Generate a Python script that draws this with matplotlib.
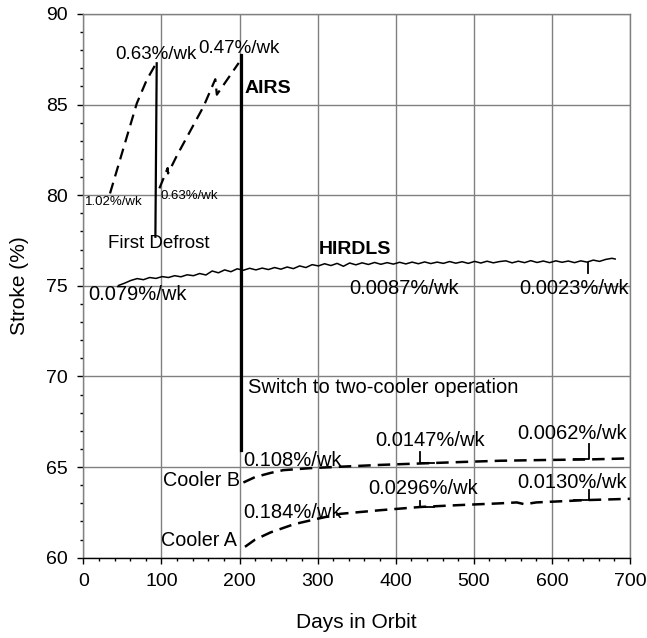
import matplotlib
matplotlib.use("Agg")
import matplotlib.pyplot as plt

plt.rcParams['font.family'] = ['Liberation Sans', 'DejaVu Sans']

# ---- data ----
airs1_days = [34.2, 68.5, 81.2, 93.3]
airs1_vals = [80.1, 85.07, 86.36, 87.28]

airs2_days = [97.5, 108, 108.5, 120, 154, 169, 171, 199]
airs2_vals = [80.38, 81.5, 81.2, 82.2, 84.9, 86.4, 85.55, 87.3]

defrost_days = [94.0, 92.3]
defrost_vals = [87.28, 77.71]

switch_days = [201.8, 201.8]
switch_vals = [87.74, 65.94]

hirdls_days = [45, 53, 61, 69, 77, 85, 93, 101, 109, 117, 125, 133, 141, 149, 157,
               165, 173, 181, 189, 197, 205, 213, 221, 229, 237, 245, 253, 261, 269,
               277, 285, 293, 301, 309, 317, 325, 333, 341, 349, 357, 365, 373, 381,
               389, 397, 405, 413, 421, 429, 437, 445, 453, 461, 469, 477, 485, 493,
               501, 509, 517, 525, 533, 541, 549, 557, 565, 573, 581, 589, 597, 605,
               613, 621, 629, 637, 645, 653, 661, 669, 677, 681]
hirdls_vals = [75.02, 75.15, 75.30, 75.40, 75.34, 75.46, 75.41, 75.51, 75.46, 75.56,
               75.50, 75.61, 75.56, 75.68, 75.60, 75.82, 75.72, 75.88, 75.78, 75.94,
               75.86, 75.97, 75.88, 75.98, 75.90, 76.01, 75.92, 76.04, 75.95, 76.10,
               76.01, 76.17, 76.10, 76.22, 76.12, 76.24, 76.08, 76.26, 76.16, 76.27,
               76.18, 76.29, 76.19, 76.28, 76.20, 76.30, 76.21, 76.31, 76.22, 76.32,
               76.23, 76.31, 76.24, 76.34, 76.25, 76.33, 76.24, 76.35, 76.26, 76.36,
               76.27, 76.34, 76.38, 76.27, 76.36, 76.28, 76.39, 76.29, 76.37, 76.28,
               76.38, 76.30, 76.37, 76.28, 76.38, 76.31, 76.42, 76.35, 76.46, 76.52,
               76.48]

coolerB_days = [205, 220, 240, 256, 290, 329, 380, 432, 484, 534, 590, 645, 700]
coolerB_vals = [64.15, 64.45, 64.68, 64.83, 64.94, 65.02, 65.12, 65.20, 65.28, 65.35,
                65.39, 65.42, 65.48]

coolerA_days = [207, 220, 240, 270, 300, 329, 380, 432, 480, 534, 555, 565, 580, 645, 700]
coolerA_vals = [60.6, 61.0, 61.4, 61.85, 62.15, 62.42, 62.62, 62.8, 62.9, 63.0, 63.05,
                62.95, 63.05, 63.18, 63.25]

# leader lines (days, values)
leader_hirdls = ([646, 646], [76.24, 75.69])
leader_b1 = ([431.6, 431.6, 449], [65.84, 65.21, 65.21])
leader_b2 = ([647.5, 647.5, 628], [66.27, 65.43, 65.43])
leader_a1 = ([431.6, 431.6, 449], [63.14, 62.78, 62.78])
leader_a2 = ([647.5, 647.5, 628], [63.73, 63.19, 63.19])

x_ticks = [0, 100, 200, 300, 400, 500, 600, 700]
y_ticks = [60, 65, 70, 75, 80, 85, 90]

# ---- figure ----
fig = plt.figure(figsize=(6.47, 6.38), dpi=100)
ax = fig.add_axes([83.3 / 647, 1 - 557.7 / 638, (630 - 83.3) / 647, (557.7 - 14) / 638])
ax.set_xlim(0, 700)
ax.set_ylim(60, 90)
ax.set_xticks(x_ticks)
ax.set_yticks(y_ticks)
ax.set_xticks(range(0, 701, 20), minor=True)
ax.set_yticks(range(60, 91, 1), minor=True)
ax.grid(True, which='major', color='#808080', lw=1.0)
ax.set_axisbelow(True)
for s in ['left', 'top', 'right']:
    ax.spines[s].set_color('#808080')
    ax.spines[s].set_linewidth(1.0)
ax.spines['bottom'].set_color('black')
ax.spines['bottom'].set_linewidth(1.0)
ax.tick_params(axis='both', which='major', direction='out', length=4, width=1,
               labelsize=14, pad=7)
ax.tick_params(axis='both', which='minor', direction='out', length=2.5, width=1)

dash1 = (0, (5, 3))
ax.plot(airs1_days, airs1_vals, color='black', lw=1.6, linestyle=dash1)
ax.plot(airs2_days, airs2_vals, color='black', lw=1.6, linestyle=dash1)
ax.plot(defrost_days, defrost_vals, color='black', lw=1.6)
ax.plot(switch_days, switch_vals, color='black', lw=2.3)
ax.plot(hirdls_days, hirdls_vals, color='black', lw=1.1)
dash2 = (0, (5, 2.8))
ax.plot(coolerB_days, coolerB_vals, color='black', lw=1.8, linestyle=dash2)
ax.plot(coolerA_days, coolerA_vals, color='black', lw=1.8, linestyle=dash2)
for ld in [leader_hirdls, leader_b1, leader_b2, leader_a1, leader_a2]:
    ax.plot(ld[0], ld[1], color='black', lw=1.3)

fs = 13.5
fb = 14.5
def t(x, y, s, size=fs, ha='left', weight='normal'):
    ax.text(x, y, s, fontsize=size, ha=ha, va='center', fontweight=weight)

t(40.6, 87.79, '0.63%/wk')
t(147, 88.07, '0.47%/wk')
t(2.2, 79.6, '1.02%/wk', size=9.5)
t(98.3, 79.96, '0.63%/wk', size=9.5)
t(31.7, 77.36, 'First Defrost')
t(207, 85.9, 'AIRS', size=14, weight='bold')
t(301, 77.0, 'HIRDLS', size=14, weight='bold')
t(6, 74.55, '0.079%/wk', size=fb)
t(340.6, 74.85, '0.0087%/wk', size=fb)
t(558, 74.85, '0.0023%/wk', size=fb)
t(211, 69.41, 'Switch to two-cooler operation', size=fb)
t(205, 65.39, '0.108%/wk', size=fb)
t(374, 66.49, '0.0147%/wk', size=fb)
t(556, 66.88, '0.0062%/wk', size=fb)
t(205, 62.52, '0.184%/wk', size=fb)
t(365, 63.84, '0.0296%/wk', size=fb)
t(556, 64.17, '0.0130%/wk', size=fb)
t(201, 64.24, 'Cooler B', size=14.2, ha='right')
t(196.6, 60.97, 'Cooler A', size=14.2, ha='right')

ax.set_xlabel('Days in Orbit', fontsize=15)
ax.set_ylabel('Stroke (%)', fontsize=15)
ax.xaxis.label.set_va('center')
ax.yaxis.label.set_va('center')
ax.xaxis.set_label_coords(0.5, (557.7 - 622) / 543.7)
ax.yaxis.set_label_coords((20 - 83.3) / 546.7, 0.5)

fig.savefig('out.png', dpi=100)
